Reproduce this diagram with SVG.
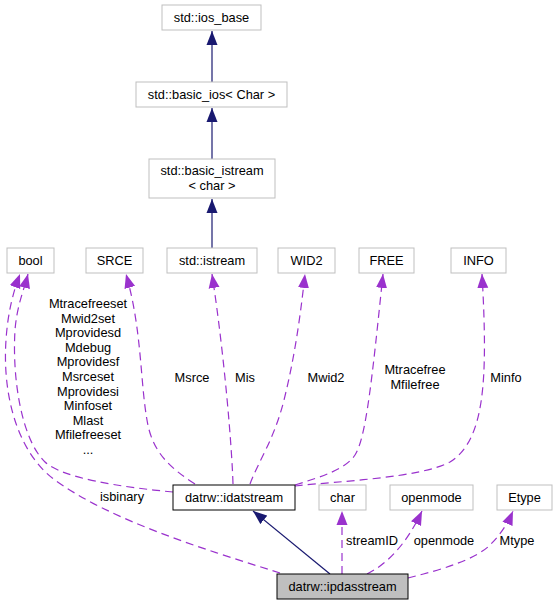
<svg xmlns="http://www.w3.org/2000/svg" width="558" height="605" viewBox="0 0 558 605">
<style>
text{font-family:"Liberation Sans",Arial,sans-serif;font-size:12.8px;fill:#000;text-anchor:middle}
.ext{fill:#fff;stroke:#bfbfbf;stroke-width:1}
.cls{fill:#fff;stroke:#000;stroke-width:1}
.cur{fill:#bfbfbf;stroke:#000;stroke-width:1}
.inh{fill:none;stroke:#191970;stroke-width:1.2}
.use{fill:none;stroke:#9a32cd;stroke-width:1.2;stroke-dasharray:8,5}
</style>
<defs>
<marker id="aN" markerUnits="userSpaceOnUse" markerWidth="14" markerHeight="12" viewBox="0 0 14 11" refX="14" refY="5.5" orient="auto"><path d="M0,0 L14,5.5 L0,11 z" fill="#191970"/></marker>
<marker id="aP" markerUnits="userSpaceOnUse" markerWidth="14" markerHeight="12" viewBox="0 0 14 11" refX="14" refY="5.5" orient="auto"><path d="M0,0 L14,5.5 L0,11 z" fill="#9a32cd"/></marker>
</defs>
<g id="edges">
<path class="inh" d="M212,82 L212,31" marker-end="url(#aN)"/>
<path class="inh" d="M212,159 L212,108" marker-end="url(#aN)"/>
<path class="inh" d="M212,248 L212,199" marker-end="url(#aN)"/>
<path class="inh" d="M330,574 L253,511" marker-end="url(#aN)"/>
<path class="use" d="M173,492 C120,487 62,478 45,462 C22,440 12,380 15,330 C17,305 24,290 28,274" marker-end="url(#aP)"/>
<path class="use" d="M280,573 C200,548 110,520 55,480 C20,455 2,400 6,340 C8,310 14,290 20,274" marker-end="url(#aP)"/>
<path class="use" d="M195,484 C170,468 152,452 147,420 C140,380 142,330 126,274" marker-end="url(#aP)"/>
<path class="use" d="M233,484 C232,450 225,360 212,274" marker-end="url(#aP)"/>
<path class="use" d="M250,484 C258,462 274,440 284,400 C294,360 300,320 305,274" marker-end="url(#aP)"/>
<path class="use" d="M295,485 C320,477 345,470 355,455 C366,438 372,380 383,274" marker-end="url(#aP)"/>
<path class="use" d="M295,486 C340,481 420,478 450,462 C485,440 488,380 482,274" marker-end="url(#aP)"/>
<path class="use" d="M342,574 L342,511" marker-end="url(#aP)"/>
<path class="use" d="M367,574 C387,564 406,545 422,511" marker-end="url(#aP)"/>
<path class="use" d="M408,578 C440,570 475,560 490,545 C500,535 507,525 513,511" marker-end="url(#aP)"/>
</g>
<g id="edge-labels">
<text x="88" y="308">Mtracefreeset</text>
<text x="88" y="322.6">Mwid2set</text>
<text x="88" y="337.2">Mprovidesd</text>
<text x="88" y="351.8">Mdebug</text>
<text x="88" y="366.4">Mprovidesf</text>
<text x="88" y="381">Msrceset</text>
<text x="88" y="395.6">Mprovidesi</text>
<text x="88" y="410.2">Minfoset</text>
<text x="88" y="424.8">Mlast</text>
<text x="88" y="439.4">Mfilefreeset</text>
<text x="88" y="454">...</text>
<text x="122" y="501">isbinary</text>
<text x="192" y="382">Msrce</text>
<text x="245" y="382">Mis</text>
<text x="326" y="382">Mwid2</text>
<text x="415" y="374">Mtracefree</text>
<text x="415" y="389">Mfilefree</text>
<text x="506" y="382">Minfo</text>
<text x="372" y="545">streamID</text>
<text x="444" y="545">openmode</text>
<text x="517" y="545">Mtype</text>
</g>
<g id="n_ios_base"><rect class="ext" x="162" y="5" width="99" height="25"/><text x="211.5" y="22">std::ios_base</text></g>
<g id="n_basic_ios"><rect class="ext" x="136" y="82" width="151" height="25"/><text x="211.5" y="99">std::basic_ios&lt; Char &gt;</text></g>
<g id="n_basic_istream"><rect class="ext" x="149" y="159" width="126" height="39"/><text x="212" y="174.5">std::basic_istream</text><text x="212" y="189.5">&lt; char &gt;</text></g>
<g id="n_istream"><rect class="ext" x="167" y="248" width="90" height="25"/><text x="212" y="265">std::istream</text></g>
<g id="n_bool"><rect class="ext" x="7" y="248" width="47" height="25"/><text x="30.5" y="265">bool</text></g>
<g id="n_SRCE"><rect class="ext" x="86" y="248" width="57" height="25"/><text x="114.5" y="265">SRCE</text></g>
<g id="n_WID2"><rect class="ext" x="278" y="248" width="57" height="25"/><text x="306.5" y="265">WID2</text></g>
<g id="n_FREE"><rect class="ext" x="359" y="248" width="55" height="25"/><text x="386.5" y="265">FREE</text></g>
<g id="n_INFO"><rect class="ext" x="451" y="248" width="55" height="25"/><text x="478.5" y="265">INFO</text></g>
<g id="n_idatstream"><rect class="cls" x="173" y="485" width="122" height="25"/><text x="234" y="502">datrw::idatstream</text></g>
<g id="n_char"><rect class="ext" x="319" y="485" width="47" height="25"/><text x="342.5" y="502">char</text></g>
<g id="n_openmode"><rect class="ext" x="390" y="485" width="83" height="25"/><text x="431.5" y="502">openmode</text></g>
<g id="n_Etype"><rect class="ext" x="497" y="485" width="55" height="25"/><text x="524.5" y="502">Etype</text></g>
<g id="n_ipdasstream"><rect class="cur" x="277" y="574" width="131" height="25"/><text x="342.5" y="591">datrw::ipdasstream</text></g>
</svg>
